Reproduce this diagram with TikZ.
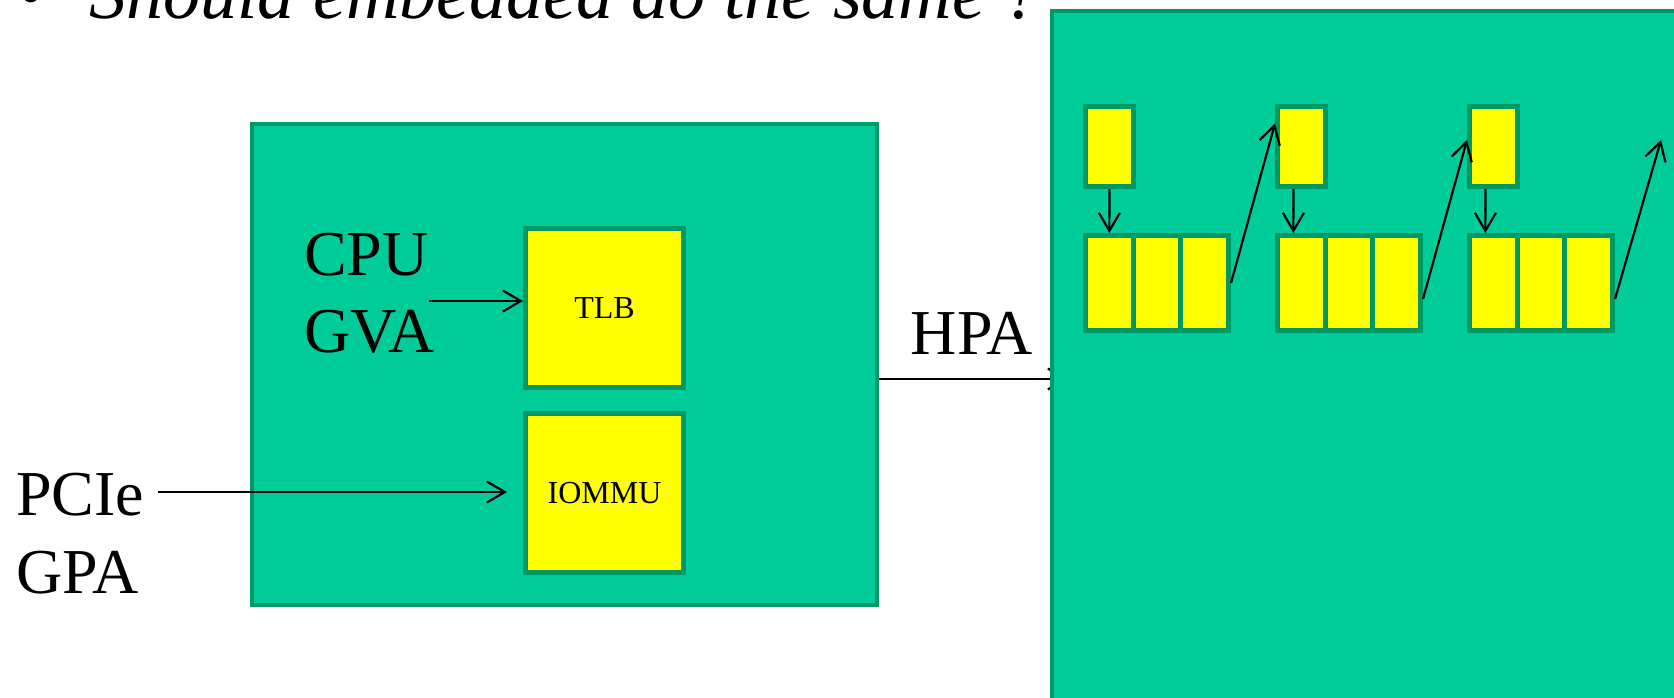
\documentclass[tikz,border=0pt]{standalone}
\usepackage{fontspec}
\setmainfont{Liberation Serif}
\usetikzlibrary{arrows.meta,calc,backgrounds}
\definecolor{boardgreen}{RGB}{0,204,153}
\definecolor{edgegreen}{RGB}{0,153,102}
\definecolor{cellyellow}{RGB}{255,255,0}
\tikzset{
  gpanel/.style={draw=edgegreen, fill=boardgreen, line width=4pt, inner sep=0pt},
  ybox/.style={draw=edgegreen, fill=cellyellow, line width=5pt, inner sep=0pt,
    font=\fontsize{32}{38}\selectfont},
  bigtext/.style={inner sep=0pt, font=\fontsize{64}{77}\selectfont},
  titletext/.style={inner sep=0pt, font=\fontsize{74}{88}\selectfont\itshape},
  link/.style={line width=2.2pt, -{Straight Barb[length=18pt,width=21pt,line width=2.2pt]}}
}
\begin{document}
\begin{tikzpicture}[x=1pt,y=-1pt]
\useasboundingbox (0,0) rectangle (1674,697);
\clip (0,0) rectangle (1674,697);

% title line
\node[titletext, anchor=base] (bullet) at (30,18) {•};
\node[titletext, anchor=base west] (title) at (89,18) {Should embedded do the same ?};

% guest side: translation units
\node[gpanel, minimum width=625pt, minimum height=481pt] (host) at (564.5,364.5) {};
\node[ybox, minimum width=158pt, minimum height=159pt] (tlb) at (604.5,308) {TLB};
\node[ybox, minimum width=158pt, minimum height=159pt] (iommu) at (604.5,493) {IOMMU};

\node[bigtext, anchor=base west] (cpu) at (304,275) {CPU};
\node[bigtext, anchor=base west] (gva) at (304,352) {GVA};
\node[bigtext, anchor=base west] (pcie) at (16,515) {PCIe};
\node[bigtext, anchor=base west] (gpa) at (16,593) {GPA};
\node[bigtext, anchor=base] (hpa) at (972,354) {HPA};

\coordinate (gvastart) at (429,301);
\draw[link] (gvastart) -- (gvastart -| tlb.west);
\coordinate (gpastart) at (158,492);
\draw[link] (gpastart) -- ($(gpastart -| iommu.west)+(-16,0)$);

% host memory with chained page tables
\node[gpanel, minimum width=700pt, minimum height=800pt] (mem) at (1402,411) {};

\foreach \k/\dx in {1/0,2/-8,3/-8} {
  \node[ybox, minimum width=48pt, minimum height=80pt] (t\k) at ({1109.5+192*(\k-1)},146.5) {};
  \foreach \c in {1,2,3} {
    \node[ybox, minimum width=47.667pt, minimum height=95pt] (g\k-\c)
      at ({1085.5+192*(\k-1)+47.667*(\c-0.5)},283) {};
  }
  \draw[link] ([xshift=\dx pt]t\k.south) -- ([xshift=\dx pt]g\k-1.north);
}

\draw[link] (g1-3.east) -- ($(t2.west)+(0,-23)$);
\draw[link] ($(g2-3.east)+(0,16)$) -- ($(t3.west)+(0,-6.5)$);
\coordinate (nextlevel) at (1661,140);
\draw[link] ($(g3-3.east)+(0,16)$) -- (nextlevel);

% HPA link runs beneath the host memory panel
\begin{pgfonlayer}{background}
  \fill[white] (0,0) rectangle (1674,697);
  \coordinate (hpaout) at ($(host.east)+(0,14.5)$);
  \draw[link] (hpaout) -- ($(hpaout -| mem.west)+(18,0)$);
\end{pgfonlayer}
\end{tikzpicture}
\end{document}
